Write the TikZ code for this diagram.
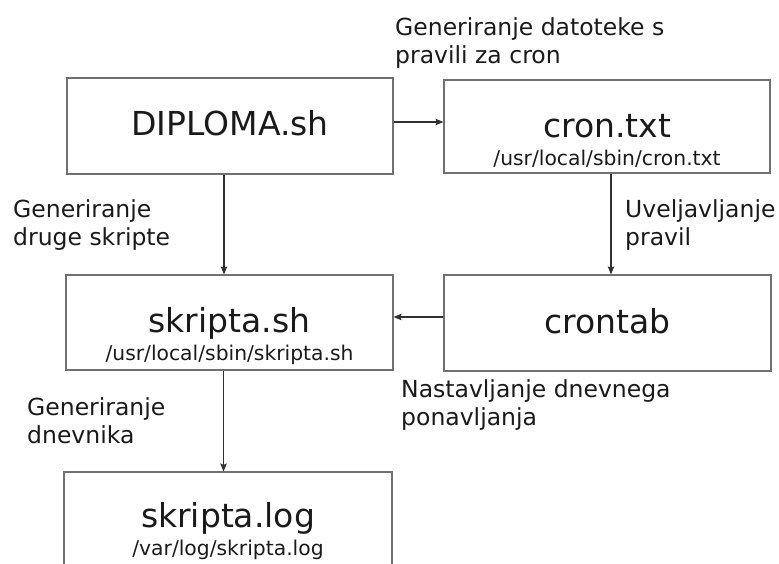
\documentclass[tikz,border=0pt]{standalone}
\usepackage{fontspec}
\setmainfont{DejaVu Sans}
\usetikzlibrary{arrows.meta}
\definecolor{boxc}{HTML}{707070}
\definecolor{arrc}{HTML}{303030}
\definecolor{txtc}{HTML}{1A1A1A}
\tikzset{
  box/.style={draw=boxc, line width=1.1pt, inner sep=0pt, rectangle},
  titletxt/.style={anchor=base, inner sep=0pt, text=txtc, font=\fontsize{33}{40}\selectfont},
  pathtxt/.style={anchor=base, inner sep=0pt, text=txtc, font=\fontsize{20.3}{24}\selectfont},
  lbl/.style={anchor=base west, inner sep=0pt, text=txtc, font=\fontsize{23.5}{28}\selectfont},
  conn/.style={draw=arrc, line width=1.1pt, -{Stealth[length=8pt,width=6.5pt,inset=1.5pt]}}
}
\newcommand{\twolines}[2]{\parbox[t]{10cm}{\fontsize{23.5}{28}\selectfont #1\\#2}}
\begin{document}
\begin{tikzpicture}[x=1pt,y=-1pt]
\useasboundingbox (0,0) rectangle (779,563);
\clip (0,0) rectangle (779,563);
% boxes
\node[box, minimum width=326pt, minimum height=96pt] (dip) at (230,126) {};
\node[box, minimum width=326pt, minimum height=93pt] (cron) at (607,126.5) {};
\node[box, minimum width=327pt, minimum height=95pt] (sk) at (229.5,322.5) {};
\node[box, minimum width=327pt, minimum height=96pt] (ctab) at (607.5,323) {};
\node[box, minimum width=328pt, minimum height=150pt] (log) at (228,547) {};
% texts in boxes
\node[titletxt] (diptitle) at (230,135) {DIPLOMA.sh};
\node[titletxt] (crontitle) at (607,137) {cron.txt};
\node[pathtxt] (cronpath) at (607,165) {/usr/local/sbin/cron.txt};
\node[titletxt] (sktitle) at (229.5,332) {skripta.sh};
\node[pathtxt] (skpath) at (229.5,360) {/usr/local/sbin/skripta.sh};
\node[titletxt] (ctabtitle) at (607.5,333) {crontab};
\node[titletxt] (logtitle) at (228,527) {skripta.log};
\node[pathtxt] (logpath) at (228,555) {/var/log/skripta.log};
% labels
\node[lbl] (l1) at (395,35) {\twolines{Generiranje datoteke s}{pravili za cron}};
\node[lbl] (l2) at (13,217) {\twolines{Generiranje}{druge skripte}};
\node[lbl] (l3) at (625,217) {\twolines{Uveljavljanje}{pravil}};
\node[lbl] (l4) at (401,397) {\twolines{Nastavljanje dnevnega}{ponavljanja}};
\node[lbl] (l5) at (27,415) {\twolines{Generiranje}{dnevnika}};
% connectors
\draw[conn] ([yshift=4pt]dip.east) -- ([yshift=4pt]dip.east -| cron.west);
\draw[conn] ([xshift=-6pt]dip.south) -- ([xshift=-6pt]dip.south |- sk.north);
\draw[conn] ([xshift=4pt]cron.south) -- ([xshift=4pt]cron.south |- ctab.north);
\draw[conn] ([yshift=6pt]ctab.west) -- ([yshift=6pt]ctab.west -| sk.east);
\draw[conn] ([xshift=-6pt]sk.south) -- ([xshift=-6pt]sk.south |- log.north);
\end{tikzpicture}
\end{document}
